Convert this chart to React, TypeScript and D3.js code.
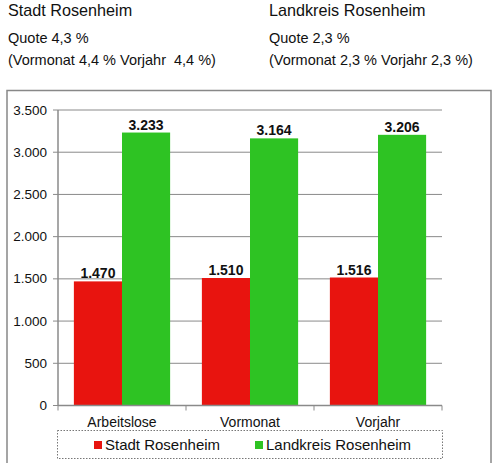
import * as d3 from 'd3';

const categories = ['Arbeitslose', 'Vormonat', 'Vorjahr'];
const seriesNames = ['Stadt Rosenheim', 'Landkreis Rosenheim'];
const stadtValues = [1470, 1510, 1516];
const landkreisValues = [3233, 3164, 3206];
const yTicks = [0, 500, 1000, 1500, 2000, 2500, 3000, 3500];
const colors = ['#e8140f', '#2ec323'];

const headers = [
  { title: 'Stadt Rosenheim', quote: 'Quote 4,3 %', detail: '(Vormonat 4,4 % Vorjahr  4,4 %)' },
  { title: 'Landkreis Rosenheim', quote: 'Quote 2,3 %', detail: '(Vormonat 2,3 % Vorjahr 2,3 %)' },
];

const fmt = (v: number) => d3.format(',')(v).replace(/,/g, '.');

export default function App() {
  const width = 500;
  const height = 463;
  const plot = { left: 58, right: 442, top: 110, bottom: 405.5 };

  const x = d3.scaleBand<string>().domain(categories).range([plot.left, plot.right]).padding(0);
  const xSub = d3.scaleBand<string>()
    .domain(seriesNames)
    .range([0, x.bandwidth()])
    .paddingInner(0)
    .paddingOuter(0.33);
  const y = d3.scaleLinear().domain([0, 3500]).range([plot.bottom, plot.top]);

  const series = [stadtValues, landkreisValues];
  const font = '"Liberation Sans", Arial, sans-serif';

  return (
    <svg
      width={width}
      height={height}
      style={{ position: 'absolute', left: 0, top: 0, background: '#fff' }}
      fontFamily={font}
    >
      {/* Header texts */}
      {headers.map((h, i) => (
        <g key={i} transform={`translate(${i === 0 ? 8 : 269},0)`}>
          <text x={0} y={15.5} fontSize={16.2} fill="#111">{h.title}</text>
          <text x={0} y={43} fontSize={14.5} fill="#111">{h.quote}</text>
          <text x={0} y={65} fontSize={14.5} fill="#111" style={{ whiteSpace: 'pre' }}>{h.detail}</text>
        </g>
      ))}

      {/* Outer frame */}
      <rect x={7} y={90.5} width={484} height={380} fill="none" stroke="#888" strokeWidth={1.5} />

      {/* Gridlines + y axis */}
      {yTicks.map((t) => (
        <g key={t}>
          {t > 0 && (
            <line x1={plot.left} x2={plot.right} y1={y(t)} y2={y(t)} stroke="#8a8a8a" strokeWidth={1} />
          )}
          <line x1={plot.left - 5} x2={plot.left} y1={y(t)} y2={y(t)} stroke="#8a8a8a" strokeWidth={1} />
          <text x={47} y={y(t)} textAnchor="end" dominantBaseline="central" fontSize={13.5} fill="#111">
            {fmt(t)}
          </text>
        </g>
      ))}
      <line x1={plot.left} x2={plot.left} y1={plot.top} y2={plot.bottom} stroke="#8a8a8a" strokeWidth={1.5} />

      {/* Bars */}
      {categories.map((c, ci) => (
        <g key={c} transform={`translate(${x(c)},0)`}>
          {seriesNames.map((s, si) => {
            const v = series[si][ci];
            const bx = xSub(s)!;
            return (
              <g key={s}>
                <rect x={bx} y={y(v)} width={xSub.bandwidth()} height={plot.bottom - y(v)} fill={colors[si]} />
                <text
                  x={bx + xSub.bandwidth() / 2}
                  y={y(v) - 3}
                  textAnchor="middle"
                  fontSize={14}
                  fontWeight="bold"
                  fill="#111"
                >
                  {fmt(v)}
                </text>
              </g>
            );
          })}
        </g>
      ))}

      {/* X axis */}
      <line x1={plot.left} x2={plot.right} y1={plot.bottom} y2={plot.bottom} stroke="#8a8a8a" strokeWidth={1.5} />
      {[...categories.map((c) => x(c)!), plot.right].map((tx, i) => (
        <line key={i} x1={tx} x2={tx} y1={plot.bottom} y2={plot.bottom + 5} stroke="#8a8a8a" strokeWidth={1} />
      ))}
      {categories.map((c) => (
        <text key={c} x={x(c)! + x.bandwidth() / 2} y={427} textAnchor="middle" fontSize={14} fill="#111">
          {c}
        </text>
      ))}

      {/* Legend */}
      <rect x={57.5} y={430.5} width={385} height={28} fill="none" stroke="#777" strokeWidth={1} strokeDasharray="1.5,1.5" />
      {seriesNames.map((s, i) => {
        const lx = i === 0 ? 94 : 255;
        return (
          <g key={s}>
            <rect x={lx} y={441} width={8} height={8} fill={colors[i]} />
            <text x={lx + 11} y={450} fontSize={15} fill="#111">{s}</text>
          </g>
        );
      })}
    </svg>
  );
}
